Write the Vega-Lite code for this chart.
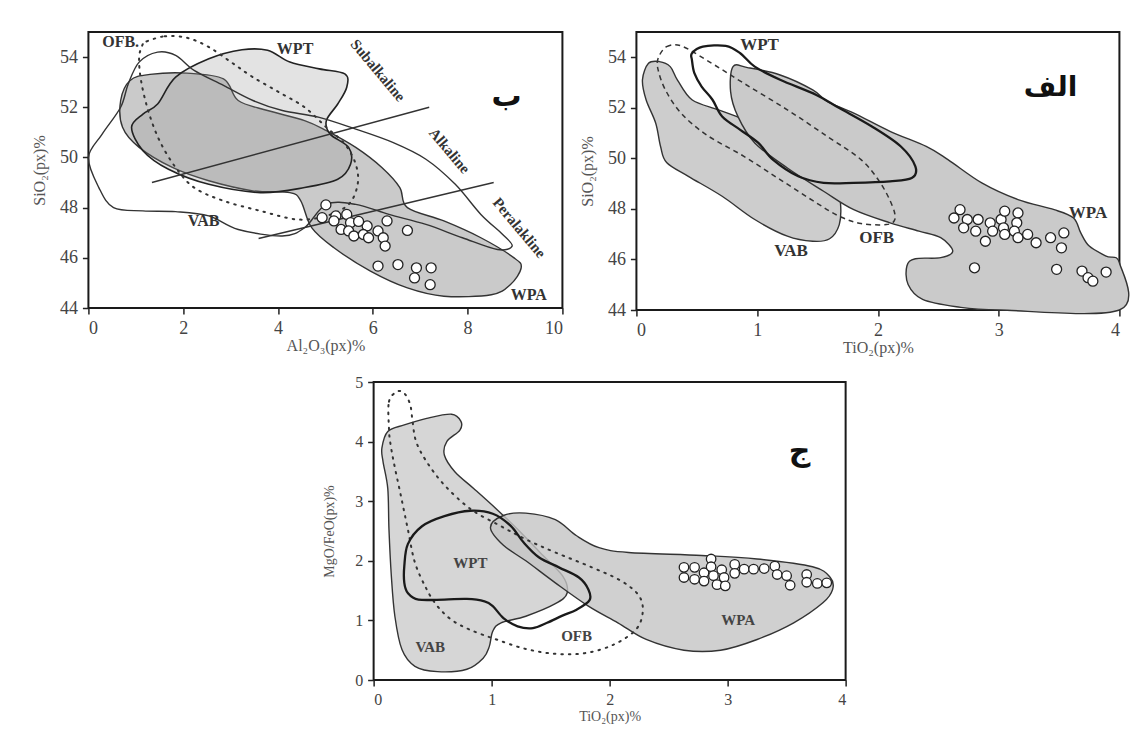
{
  "$schema": "https://vega.github.io/schema/vega-lite/v6.json",
  "padding": {"left": 30, "top": 30, "right": 5, "bottom": 5},
  "background": "white",
  "config": {
    "font": "Liberation Serif",
    "view": {"stroke": "#1a1a1a", "strokeWidth": 2},
    "axis": {"grid": false, "domain": false, "tickColor": "#222", "tickSize": 6, "tickWidth": 1.5,
      "labelFont": "Liberation Serif", "labelFontSize": 18, "labelColor": "#444", "labelPadding": 5,
      "titleFont": "Liberation Serif", "titleFontSize": 16, "titleFontWeight": "normal", "titleColor": "#555"},
    "axisY": {"titlePadding": 12},
    "axisX": {"titlePadding": 0}
  },
  "datasets": {
    "polyA": [
      {"s":"WPA","i":0,"x":0.68,"y":52.27},{"s":"WPA","i":1,"x":0.88,"y":53.07},{"s":"WPA","i":2,"x":1.30,"y":53.31},{"s":"WPA","i":3,"x":2.08,"y":53.36},{"s":"WPA","i":4,"x":2.85,"y":53.13},{"s":"WPA","i":5,"x":3.16,"y":52.27},{"s":"WPA","i":6,"x":3.78,"y":51.87},{"s":"WPA","i":7,"x":4.56,"y":51.47},{"s":"WPA","i":8,"x":5.02,"y":51.07},{"s":"WPA","i":9,"x":5.64,"y":50.4},{"s":"WPA","i":10,"x":6.19,"y":49.6},{"s":"WPA","i":11,"x":6.57,"y":48.8},{"s":"WPA","i":12,"x":6.73,"y":48.0},{"s":"WPA","i":13,"x":7.5,"y":47.47},{"s":"WPA","i":14,"x":8.28,"y":46.8},{"s":"WPA","i":15,"x":8.98,"y":46.0},{"s":"WPA","i":16,"x":9.13,"y":45.6},{"s":"WPA","i":17,"x":8.9,"y":44.93},{"s":"WPA","i":18,"x":8.5,"y":44.53},{"s":"WPA","i":19,"x":7.5,"y":44.47},{"s":"WPA","i":20,"x":6.73,"y":44.8},{"s":"WPA","i":21,"x":5.95,"y":45.47},{"s":"WPA","i":22,"x":5.18,"y":46.4},{"s":"WPA","i":23,"x":4.71,"y":47.2},{"s":"WPA","i":24,"x":4.48,"y":48.27},{"s":"WPA","i":25,"x":4.25,"y":48.6},{"s":"WPA","i":26,"x":3.47,"y":48.67},{"s":"WPA","i":27,"x":2.54,"y":49.07},{"s":"WPA","i":28,"x":1.77,"y":49.6},{"s":"WPA","i":29,"x":1.07,"y":50.4},{"s":"WPA","i":30,"x":0.72,"y":51.2},
      {"s":"WPT","i":0,"x":1.46,"y":52.13},{"s":"WPT","i":1,"x":1.84,"y":53.2},{"s":"WPT","i":2,"x":2.54,"y":53.93},{"s":"WPT","i":3,"x":3.24,"y":54.29},{"s":"WPT","i":4,"x":3.78,"y":54.27},{"s":"WPT","i":5,"x":4.25,"y":53.8},{"s":"WPT","i":6,"x":4.87,"y":53.53},{"s":"WPT","i":7,"x":5.41,"y":53.33},{"s":"WPT","i":8,"x":5.45,"y":52.8},{"s":"WPT","i":9,"x":5.26,"y":52.13},{"s":"WPT","i":10,"x":5.02,"y":51.47},{"s":"WPT","i":11,"x":5.1,"y":50.93},{"s":"WPT","i":12,"x":5.49,"y":50.4},{"s":"WPT","i":13,"x":5.53,"y":49.73},{"s":"WPT","i":14,"x":5.26,"y":49.13},{"s":"WPT","i":15,"x":4.56,"y":48.8},{"s":"WPT","i":16,"x":3.63,"y":48.6},{"s":"WPT","i":17,"x":2.54,"y":48.93},{"s":"WPT","i":18,"x":1.69,"y":49.53},{"s":"WPT","i":19,"x":1.15,"y":50.27},{"s":"WPT","i":20,"x":0.91,"y":51.2},{"s":"WPT","i":21,"x":1.15,"y":51.73},
      {"s":"VAB","i":0,"x":0.0,"y":50.0},{"s":"VAB","i":1,"x":0.29,"y":50.93},{"s":"VAB","i":2,"x":0.68,"y":52.0},{"s":"VAB","i":3,"x":0.84,"y":52.93},{"s":"VAB","i":4,"x":1.07,"y":53.8},{"s":"VAB","i":5,"x":1.46,"y":54.2},{"s":"VAB","i":6,"x":1.84,"y":54.07},{"s":"VAB","i":7,"x":2.23,"y":53.47},{"s":"VAB","i":8,"x":2.85,"y":52.87},{"s":"VAB","i":9,"x":3.47,"y":52.27},{"s":"VAB","i":10,"x":4.09,"y":51.87},{"s":"VAB","i":11,"x":4.87,"y":51.6},{"s":"VAB","i":12,"x":5.64,"y":51.13},{"s":"VAB","i":13,"x":6.42,"y":50.6},{"s":"VAB","i":14,"x":7.12,"y":49.93},{"s":"VAB","i":15,"x":7.74,"y":48.93},{"s":"VAB","i":16,"x":8.28,"y":47.73},{"s":"VAB","i":17,"x":8.74,"y":46.93},{"s":"VAB","i":18,"x":8.94,"y":46.47},{"s":"VAB","i":19,"x":8.63,"y":46.33},{"s":"VAB","i":20,"x":7.89,"y":46.8},{"s":"VAB","i":21,"x":7.12,"y":47.33},{"s":"VAB","i":22,"x":6.34,"y":47.73},{"s":"VAB","i":23,"x":5.64,"y":48.13},{"s":"VAB","i":24,"x":5.02,"y":48.13},{"s":"VAB","i":25,"x":4.56,"y":47.2},{"s":"VAB","i":26,"x":4.09,"y":46.87},{"s":"VAB","i":27,"x":3.16,"y":47.13},{"s":"VAB","i":28,"x":2.54,"y":47.67},{"s":"VAB","i":29,"x":1.84,"y":47.84},{"s":"VAB","i":30,"x":1.15,"y":47.87},{"s":"VAB","i":31,"x":0.53,"y":48.0},{"s":"VAB","i":32,"x":0.22,"y":48.8},
      {"s":"OFB","i":0,"x":1.19,"y":54.6},{"s":"OFB","i":1,"x":1.61,"y":54.83},{"s":"OFB","i":2,"x":2.08,"y":54.77},{"s":"OFB","i":3,"x":2.54,"y":54.4},{"s":"OFB","i":4,"x":3.01,"y":53.8},{"s":"OFB","i":5,"x":3.47,"y":53.2},{"s":"OFB","i":6,"x":4.02,"y":52.6},{"s":"OFB","i":7,"x":4.56,"y":52.0},{"s":"OFB","i":8,"x":5.02,"y":51.2},{"s":"OFB","i":9,"x":5.41,"y":50.53},{"s":"OFB","i":10,"x":5.64,"y":49.73},{"s":"OFB","i":11,"x":5.68,"y":48.93},{"s":"OFB","i":12,"x":5.49,"y":48.13},{"s":"OFB","i":13,"x":5.02,"y":47.67},{"s":"OFB","i":14,"x":4.4,"y":47.53},{"s":"OFB","i":15,"x":3.63,"y":47.87},{"s":"OFB","i":16,"x":2.85,"y":48.27},{"s":"OFB","i":17,"x":2.23,"y":48.8},{"s":"OFB","i":18,"x":1.84,"y":49.6},{"s":"OFB","i":19,"x":1.5,"y":50.67},{"s":"OFB","i":20,"x":1.26,"y":51.87},{"s":"OFB","i":21,"x":1.11,"y":53.07},{"s":"OFB","i":22,"x":1.07,"y":54.0},{"s":"OFB","i":23,"x":1.15,"y":54.53}
    ],
    "linesA": [
      {"s":"L1","i":0,"x":1.34,"y":49.0},{"s":"L1","i":1,"x":7.19,"y":52.0},
      {"s":"L2","i":0,"x":3.59,"y":46.77},{"s":"L2","i":1,"x":8.55,"y":49.0}
    ],
    "ptsA": [
      {"x":5.01,"y":48.11},{"x":4.93,"y":47.6},{"x":5.22,"y":47.67},{"x":5.45,"y":47.73},{"x":5.18,"y":47.47},{"x":5.33,"y":47.13},{"x":5.53,"y":47.4},{"x":5.49,"y":47.07},{"x":5.6,"y":46.87},{"x":5.88,"y":47.27},{"x":5.8,"y":46.93},{"x":5.91,"y":46.8},{"x":6.11,"y":47.07},{"x":6.22,"y":46.8},{"x":6.26,"y":46.47},{"x":6.3,"y":47.47},{"x":6.73,"y":47.09},{"x":6.11,"y":45.67},{"x":6.53,"y":45.73},{"x":6.92,"y":45.6},{"x":6.88,"y":45.2},{"x":7.23,"y":45.6},{"x":7.21,"y":44.93},{"x":5.7,"y":47.45}
    ],
    "labA": [
      {"t":"OFB.","x":0.68,"y":54.6},{"t":"WPT","x":4.36,"y":54.33},{"t":"VAB","x":2.43,"y":47.47},{"t":"WPA","x":9.29,"y":44.53}
    ],
    "rotA": [
      {"t":"Subalkaline","x":6.11,"y":53.47},{"t":"Alkaline","x":7.62,"y":50.27},{"t":"Peralakline","x":9.09,"y":47.2}
    ],
    "polyB": [
      {"s":"VAB","i":0,"x":0.1,"y":53.76},{"s":"VAB","i":1,"x":0.19,"y":53.83},{"s":"VAB","i":2,"x":0.28,"y":53.63},{"s":"VAB","i":3,"x":0.34,"y":53.1},{"s":"VAB","i":4,"x":0.46,"y":52.32},{"s":"VAB","i":5,"x":0.68,"y":51.92},{"s":"VAB","i":6,"x":0.89,"y":51.53},{"s":"VAB","i":7,"x":1.07,"y":51.0},{"s":"VAB","i":8,"x":1.25,"y":50.54},{"s":"VAB","i":9,"x":1.49,"y":49.95},{"s":"VAB","i":10,"x":1.65,"y":49.16},{"s":"VAB","i":11,"x":1.69,"y":48.24},{"s":"VAB","i":12,"x":1.68,"y":47.38},{"s":"VAB","i":13,"x":1.6,"y":46.82},{"s":"VAB","i":14,"x":1.46,"y":46.72},{"s":"VAB","i":15,"x":1.25,"y":46.92},{"s":"VAB","i":16,"x":0.98,"y":47.58},{"s":"VAB","i":17,"x":0.71,"y":48.5},{"s":"VAB","i":18,"x":0.43,"y":49.29},{"s":"VAB","i":19,"x":0.25,"y":49.84},{"s":"VAB","i":20,"x":0.2,"y":50.47},{"s":"VAB","i":21,"x":0.16,"y":51.39},{"s":"VAB","i":22,"x":0.08,"y":52.32},{"s":"VAB","i":23,"x":0.05,"y":53.11},
      {"s":"WPA","i":0,"x":0.8,"y":53.63},{"s":"WPA","i":1,"x":0.92,"y":53.59},{"s":"WPA","i":2,"x":1.19,"y":53.3},{"s":"WPA","i":3,"x":1.46,"y":52.71},{"s":"WPA","i":4,"x":1.58,"y":52.25},{"s":"WPA","i":5,"x":1.8,"y":51.79},{"s":"WPA","i":6,"x":2.1,"y":51.07},{"s":"WPA","i":7,"x":2.4,"y":50.47},{"s":"WPA","i":8,"x":2.58,"y":49.95},{"s":"WPA","i":9,"x":2.86,"y":49.03},{"s":"WPA","i":10,"x":3.16,"y":48.37},{"s":"WPA","i":11,"x":3.46,"y":47.97},{"s":"WPA","i":12,"x":3.62,"y":47.64},{"s":"WPA","i":13,"x":3.68,"y":47.05},{"s":"WPA","i":14,"x":3.75,"y":46.53},{"s":"WPA","i":15,"x":3.89,"y":46.13},{"s":"WPA","i":16,"x":4.0,"y":45.87},{"s":"WPA","i":17,"x":4.0,"y":44.0},{"s":"WPA","i":18,"x":3.01,"y":44.0},{"s":"WPA","i":19,"x":2.65,"y":44.13},{"s":"WPA","i":20,"x":2.37,"y":44.42},{"s":"WPA","i":21,"x":2.25,"y":45.01},{"s":"WPA","i":22,"x":2.24,"y":45.74},{"s":"WPA","i":23,"x":2.31,"y":46.03},{"s":"WPA","i":24,"x":2.52,"y":46.07},{"s":"WPA","i":25,"x":2.62,"y":46.33},{"s":"WPA","i":26,"x":2.52,"y":46.86},{"s":"WPA","i":27,"x":2.34,"y":47.12},{"s":"WPA","i":28,"x":2.1,"y":47.45},{"s":"WPA","i":29,"x":1.8,"y":47.97},{"s":"WPA","i":30,"x":1.55,"y":48.7},{"s":"WPA","i":31,"x":1.25,"y":49.62},{"s":"WPA","i":32,"x":0.98,"y":50.61},{"s":"WPA","i":33,"x":0.84,"y":51.66},{"s":"WPA","i":34,"x":0.78,"y":52.64},
      {"s":"WPT","i":0,"x":0.46,"y":54.16},{"s":"WPT","i":1,"x":0.55,"y":54.42},{"s":"WPT","i":2,"x":0.74,"y":54.45},{"s":"WPT","i":3,"x":0.86,"y":54.16},{"s":"WPT","i":4,"x":0.98,"y":53.63},{"s":"WPT","i":5,"x":1.19,"y":53.11},{"s":"WPT","i":6,"x":1.49,"y":52.51},{"s":"WPT","i":7,"x":1.68,"y":51.99},{"s":"WPT","i":8,"x":1.95,"y":51.26},{"s":"WPT","i":9,"x":2.19,"y":50.47},{"s":"WPT","i":10,"x":2.31,"y":49.68},{"s":"WPT","i":11,"x":2.28,"y":49.22},{"s":"WPT","i":12,"x":2.1,"y":49.09},{"s":"WPT","i":13,"x":1.8,"y":49.03},{"s":"WPT","i":14,"x":1.55,"y":49.03},{"s":"WPT","i":15,"x":1.34,"y":49.29},{"s":"WPT","i":16,"x":1.13,"y":49.95},{"s":"WPT","i":17,"x":1.01,"y":50.61},{"s":"WPT","i":18,"x":0.86,"y":51.13},{"s":"WPT","i":19,"x":0.71,"y":51.66},{"s":"WPT","i":20,"x":0.63,"y":52.32},{"s":"WPT","i":21,"x":0.54,"y":52.84},{"s":"WPT","i":22,"x":0.48,"y":53.37},{"s":"WPT","i":23,"x":0.46,"y":53.89},
      {"s":"OFB","i":0,"x":0.18,"y":53.96},{"s":"OFB","i":1,"x":0.25,"y":54.42},{"s":"OFB","i":2,"x":0.37,"y":54.45},{"s":"OFB","i":3,"x":0.58,"y":53.89},{"s":"OFB","i":4,"x":0.89,"y":52.97},{"s":"OFB","i":5,"x":1.25,"y":51.92},{"s":"OFB","i":6,"x":1.58,"y":50.87},{"s":"OFB","i":7,"x":1.86,"y":49.95},{"s":"OFB","i":8,"x":2.02,"y":49.03},{"s":"OFB","i":9,"x":2.12,"y":48.11},{"s":"OFB","i":10,"x":2.14,"y":47.58},{"s":"OFB","i":11,"x":2.07,"y":47.38},{"s":"OFB","i":12,"x":1.86,"y":47.42},{"s":"OFB","i":13,"x":1.68,"y":47.71},{"s":"OFB","i":14,"x":1.49,"y":48.24},{"s":"OFB","i":15,"x":1.19,"y":49.16},{"s":"OFB","i":16,"x":0.89,"y":50.08},{"s":"OFB","i":17,"x":0.58,"y":50.93},{"s":"OFB","i":18,"x":0.37,"y":51.79},{"s":"OFB","i":19,"x":0.24,"y":52.71},{"s":"OFB","i":20,"x":0.18,"y":53.5}
    ],
    "ptsB": [
      {"x":2.68,"y":47.97},{"x":2.63,"y":47.64},{"x":2.74,"y":47.58},{"x":2.71,"y":47.25},{"x":2.83,"y":47.58},{"x":2.81,"y":47.12},{"x":2.89,"y":46.72},{"x":2.93,"y":47.45},{"x":2.95,"y":47.12},{"x":3.02,"y":47.58},{"x":3.05,"y":47.91},{"x":3.04,"y":47.25},{"x":3.16,"y":47.84},{"x":3.15,"y":47.45},{"x":3.13,"y":47.12},{"x":3.05,"y":46.99},{"x":3.16,"y":46.86},{"x":3.24,"y":46.99},{"x":3.31,"y":46.66},{"x":3.43,"y":46.86},{"x":3.54,"y":47.05},{"x":3.52,"y":46.46},{"x":3.48,"y":45.61},{"x":2.8,"y":45.67},{"x":3.69,"y":45.54},{"x":3.74,"y":45.28},{"x":3.78,"y":45.14},{"x":3.89,"y":45.5}
    ],
    "labB": [
      {"t":"WPT","x":1.02,"y":54.49},{"t":"VAB","x":1.28,"y":46.33},{"t":"OFB","x":1.99,"y":46.86},{"t":"WPA","x":3.74,"y":47.84}
    ],
    "polyC": [
      {"s":"VAB","i":0,"x":0.07,"y":3.89},{"s":"VAB","i":1,"x":0.12,"y":4.17},{"s":"VAB","i":2,"x":0.26,"y":4.28},{"s":"VAB","i":3,"x":0.45,"y":4.39},{"s":"VAB","i":4,"x":0.66,"y":4.46},{"s":"VAB","i":5,"x":0.74,"y":4.34},{"s":"VAB","i":6,"x":0.73,"y":4.19},{"s":"VAB","i":7,"x":0.62,"y":4.0},{"s":"VAB","i":8,"x":0.6,"y":3.77},{"s":"VAB","i":9,"x":0.69,"y":3.49},{"s":"VAB","i":10,"x":0.85,"y":3.21},{"s":"VAB","i":11,"x":1.04,"y":2.87},{"s":"VAB","i":12,"x":1.22,"y":2.53},{"s":"VAB","i":13,"x":1.41,"y":2.14},{"s":"VAB","i":14,"x":1.6,"y":1.75},{"s":"VAB","i":15,"x":1.64,"y":1.46},{"s":"VAB","i":16,"x":1.54,"y":1.28},{"s":"VAB","i":17,"x":1.29,"y":1.07},{"s":"VAB","i":18,"x":1.08,"y":0.96},{"s":"VAB","i":19,"x":1.01,"y":0.82},{"s":"VAB","i":20,"x":0.98,"y":0.56},{"s":"VAB","i":21,"x":0.93,"y":0.37},{"s":"VAB","i":22,"x":0.79,"y":0.18},{"s":"VAB","i":23,"x":0.54,"y":0.14},{"s":"VAB","i":24,"x":0.35,"y":0.23},{"s":"VAB","i":25,"x":0.24,"y":0.51},{"s":"VAB","i":26,"x":0.18,"y":1.07},{"s":"VAB","i":27,"x":0.15,"y":1.75},{"s":"VAB","i":28,"x":0.13,"y":2.53},{"s":"VAB","i":29,"x":0.12,"y":3.21},{"s":"VAB","i":30,"x":0.08,"y":3.66},
      {"s":"WPA","i":0,"x":0.99,"y":2.56},{"s":"WPA","i":1,"x":1.1,"y":2.76},{"s":"WPA","i":2,"x":1.29,"y":2.8},{"s":"WPA","i":3,"x":1.54,"y":2.69},{"s":"WPA","i":4,"x":1.72,"y":2.42},{"s":"WPA","i":5,"x":1.91,"y":2.22},{"s":"WPA","i":6,"x":2.16,"y":2.14},{"s":"WPA","i":7,"x":2.78,"y":2.09},{"s":"WPA","i":8,"x":3.25,"y":2.03},{"s":"WPA","i":9,"x":3.72,"y":1.9},{"s":"WPA","i":10,"x":3.87,"y":1.72},{"s":"WPA","i":11,"x":3.89,"y":1.52},{"s":"WPA","i":12,"x":3.81,"y":1.3},{"s":"WPA","i":13,"x":3.56,"y":0.96},{"s":"WPA","i":14,"x":3.25,"y":0.68},{"s":"WPA","i":15,"x":2.94,"y":0.5},{"s":"WPA","i":16,"x":2.63,"y":0.5},{"s":"WPA","i":17,"x":2.31,"y":0.68},{"s":"WPA","i":18,"x":2.07,"y":0.96},{"s":"WPA","i":19,"x":1.82,"y":1.24},{"s":"WPA","i":20,"x":1.54,"y":1.63},{"s":"WPA","i":21,"x":1.29,"y":2.0},{"s":"WPA","i":22,"x":1.1,"y":2.26},
      {"s":"WPT","i":0,"x":0.26,"y":1.91},{"s":"WPT","i":1,"x":0.29,"y":2.28},{"s":"WPT","i":2,"x":0.41,"y":2.58},{"s":"WPT","i":3,"x":0.6,"y":2.75},{"s":"WPT","i":4,"x":0.82,"y":2.84},{"s":"WPT","i":5,"x":1.01,"y":2.79},{"s":"WPT","i":6,"x":1.16,"y":2.59},{"s":"WPT","i":7,"x":1.27,"y":2.31},{"s":"WPT","i":8,"x":1.4,"y":2.06},{"s":"WPT","i":9,"x":1.57,"y":1.89},{"s":"WPT","i":10,"x":1.74,"y":1.72},{"s":"WPT","i":11,"x":1.82,"y":1.52},{"s":"WPT","i":12,"x":1.83,"y":1.34},{"s":"WPT","i":13,"x":1.72,"y":1.18},{"s":"WPT","i":14,"x":1.6,"y":1.08},{"s":"WPT","i":15,"x":1.47,"y":0.96},{"s":"WPT","i":16,"x":1.35,"y":0.87},{"s":"WPT","i":17,"x":1.22,"y":0.9},{"s":"WPT","i":18,"x":1.1,"y":1.04},{"s":"WPT","i":19,"x":1.01,"y":1.24},{"s":"WPT","i":20,"x":0.94,"y":1.32},{"s":"WPT","i":21,"x":0.79,"y":1.36},{"s":"WPT","i":22,"x":0.6,"y":1.35},{"s":"WPT","i":23,"x":0.38,"y":1.35},{"s":"WPT","i":24,"x":0.29,"y":1.46},{"s":"WPT","i":25,"x":0.26,"y":1.63},
      {"s":"OFB","i":0,"x":0.13,"y":4.22},{"s":"OFB","i":1,"x":0.13,"y":4.67},{"s":"OFB","i":2,"x":0.2,"y":4.84},{"s":"OFB","i":3,"x":0.26,"y":4.81},{"s":"OFB","i":4,"x":0.31,"y":4.62},{"s":"OFB","i":5,"x":0.33,"y":4.34},{"s":"OFB","i":6,"x":0.36,"y":4.0},{"s":"OFB","i":7,"x":0.45,"y":3.66},{"s":"OFB","i":8,"x":0.6,"y":3.27},{"s":"OFB","i":9,"x":0.82,"y":2.87},{"s":"OFB","i":10,"x":1.07,"y":2.59},{"s":"OFB","i":11,"x":1.29,"y":2.36},{"s":"OFB","i":12,"x":1.54,"y":2.14},{"s":"OFB","i":13,"x":1.85,"y":1.89},{"s":"OFB","i":14,"x":2.1,"y":1.66},{"s":"OFB","i":15,"x":2.25,"y":1.41},{"s":"OFB","i":16,"x":2.28,"y":1.13},{"s":"OFB","i":17,"x":2.22,"y":0.84},{"s":"OFB","i":18,"x":2.03,"y":0.59},{"s":"OFB","i":19,"x":1.79,"y":0.45},{"s":"OFB","i":20,"x":1.54,"y":0.44},{"s":"OFB","i":21,"x":1.29,"y":0.52},{"s":"OFB","i":22,"x":1.04,"y":0.68},{"s":"OFB","i":23,"x":0.82,"y":0.84},{"s":"OFB","i":24,"x":0.66,"y":1.01},{"s":"OFB","i":25,"x":0.54,"y":1.24},{"s":"OFB","i":26,"x":0.45,"y":1.52},{"s":"OFB","i":27,"x":0.35,"y":1.97},{"s":"OFB","i":28,"x":0.29,"y":2.53},{"s":"OFB","i":29,"x":0.23,"y":3.1},{"s":"OFB","i":30,"x":0.17,"y":3.66},{"s":"OFB","i":31,"x":0.14,"y":4.0}
    ],
    "ptsC": [
      {"x":2.63,"y":1.89},{"x":2.63,"y":1.72},{"x":2.72,"y":1.89},{"x":2.72,"y":1.69},{"x":2.8,"y":1.8},{"x":2.8,"y":1.66},{"x":2.86,"y":2.03},{"x":2.86,"y":1.9},{"x":2.88,"y":1.75},{"x":2.91,"y":1.6},{"x":2.95,"y":1.85},{"x":2.97,"y":1.72},{"x":2.98,"y":1.58},{"x":3.06,"y":1.94},{"x":3.06,"y":1.79},{"x":3.14,"y":1.86},{"x":3.22,"y":1.86},{"x":3.31,"y":1.87},{"x":3.4,"y":1.91},{"x":3.42,"y":1.77},{"x":3.5,"y":1.75},{"x":3.53,"y":1.59},{"x":3.67,"y":1.77},{"x":3.67,"y":1.64},{"x":3.76,"y":1.62},{"x":3.84,"y":1.63}
    ],
    "labC": [
      {"t":"WPT","x":0.82,"y":1.97},{"t":"VAB","x":0.48,"y":0.56},{"t":"OFB","x":1.72,"y":0.73},{"t":"WPA","x":3.09,"y":1.01}
    ]
  },
  "vconcat": [
    {
      "hconcat": [
        {
          "width": 474, "height": 276,
          "encoding": {
            "x": {"field": "x", "type": "quantitative", "scale": {"domain": [0, 10], "nice": false, "zero": false}, "axis": {"values": [0, 2, 4, 6, 8, 10], "title": "Al₂O₃(px)%"}},
            "y": {"field": "y", "type": "quantitative", "scale": {"domain": [44, 55], "nice": false, "zero": false}, "axis": {"values": [44, 46, 48, 50, 52, 54], "title": "SiO₂(px)%"}}
          },
          "layer": [
            {"data": {"name": "polyA"}, "transform": [{"filter": "datum.s == 'WPA'"}],
             "mark": {"type": "line", "interpolate": "cardinal-closed", "fill": "#cacaca", "stroke": "#333", "strokeWidth": 1.4},
             "encoding": {"detail": {"field": "s"}, "order": {"field": "i", "type": "quantitative"}}},
            {"data": {"name": "polyA"}, "transform": [{"filter": "datum.s == 'WPT'"}],
             "mark": {"type": "line", "interpolate": "cardinal-closed", "fill": "#909090", "fillOpacity": 0.25, "stroke": "#222", "strokeWidth": 1.6},
             "encoding": {"detail": {"field": "s"}, "order": {"field": "i", "type": "quantitative"}}},
            {"data": {"name": "polyA"}, "transform": [{"filter": "datum.s == 'VAB'"}],
             "mark": {"type": "line", "interpolate": "cardinal-closed", "stroke": "#333", "strokeWidth": 1.4},
             "encoding": {"detail": {"field": "s"}, "order": {"field": "i", "type": "quantitative"}}},
            {"data": {"name": "polyA"}, "transform": [{"filter": "datum.s == 'OFB'"}],
             "mark": {"type": "line", "interpolate": "cardinal-closed", "stroke": "#333", "strokeWidth": 2, "strokeDash": [1.5, 6], "strokeCap": "round"},
             "encoding": {"detail": {"field": "s"}, "order": {"field": "i", "type": "quantitative"}}},
            {"data": {"name": "linesA"},
             "mark": {"type": "line", "stroke": "#333", "strokeWidth": 1.4},
             "encoding": {"detail": {"field": "s"}, "order": {"field": "i", "type": "quantitative"}}},
            {"data": {"name": "ptsA"},
             "mark": {"type": "point", "shape": "circle", "filled": true, "fill": "white", "stroke": "#222", "strokeWidth": 1.3, "size": 100, "opacity": 1}},
            {"data": {"name": "labA"},
             "mark": {"type": "text", "font": "Liberation Serif", "fontSize": 16, "fontWeight": "bold", "color": "#333"},
             "encoding": {"text": {"field": "t"}}},
            {"data": {"name": "rotA"},
             "mark": {"type": "text", "font": "Liberation Serif", "fontSize": 15, "fontWeight": "bold", "color": "#333", "angle": 50},
             "encoding": {"text": {"field": "t"}}},
            {"data": {"values": [{"t": "ب", "x": 8.82, "y": 52.4}]},
             "mark": {"type": "text", "font": "DejaVu Sans", "fontSize": 30, "fontWeight": "bold", "color": "#111"},
             "encoding": {"text": {"field": "t"}}}
          ]
        },
        {
          "width": 483, "height": 278,
          "encoding": {
            "x": {"field": "x", "type": "quantitative", "scale": {"domain": [0, 4], "nice": false, "zero": false}, "axis": {"values": [0, 1, 2, 3, 4], "title": "TiO₂(px)%"}},
            "y": {"field": "y", "type": "quantitative", "scale": {"domain": [44, 55], "nice": false, "zero": false}, "axis": {"values": [44, 46, 48, 50, 52, 54], "title": "SiO₂(px)%"}}
          },
          "layer": [
            {"data": {"name": "polyB"}, "transform": [{"filter": "datum.s == 'VAB'"}],
             "mark": {"type": "line", "interpolate": "cardinal-closed", "fill": "#cdcdcd", "stroke": "#333", "strokeWidth": 1.4},
             "encoding": {"detail": {"field": "s"}, "order": {"field": "i", "type": "quantitative"}}},
            {"data": {"name": "polyB"}, "transform": [{"filter": "datum.s == 'WPA'"}],
             "mark": {"type": "line", "interpolate": "cardinal-closed", "fill": "#cacaca", "stroke": "#333", "strokeWidth": 1.4},
             "encoding": {"detail": {"field": "s"}, "order": {"field": "i", "type": "quantitative"}}},
            {"data": {"name": "polyB"}, "transform": [{"filter": "datum.s == 'OFB'"}],
             "mark": {"type": "line", "interpolate": "cardinal-closed", "stroke": "#333", "strokeWidth": 1.5, "strokeDash": [5, 4]},
             "encoding": {"detail": {"field": "s"}, "order": {"field": "i", "type": "quantitative"}}},
            {"data": {"name": "polyB"}, "transform": [{"filter": "datum.s == 'WPT'"}],
             "mark": {"type": "line", "interpolate": "cardinal-closed", "stroke": "#1a1a1a", "strokeWidth": 2.3},
             "encoding": {"detail": {"field": "s"}, "order": {"field": "i", "type": "quantitative"}}},
            {"data": {"name": "ptsB"},
             "mark": {"type": "point", "shape": "circle", "filled": true, "fill": "white", "stroke": "#222", "strokeWidth": 1.3, "size": 100, "opacity": 1}},
            {"data": {"name": "labB"},
             "mark": {"type": "text", "font": "Liberation Serif", "fontSize": 17, "fontWeight": "bold", "color": "#333"},
             "encoding": {"text": {"field": "t"}}},
            {"data": {"values": [{"t": "الف", "x": 3.43, "y": 52.78}]},
             "mark": {"type": "text", "font": "DejaVu Sans", "fontSize": 28, "fontWeight": "bold", "color": "#111"},
             "encoding": {"text": {"field": "t"}}}
          ]
        }
      ],
      "spacing": 14
    },
    {
      "width": 472, "height": 298,
      "encoding": {
        "x": {"field": "x", "type": "quantitative", "scale": {"domain": [0, 4], "nice": false, "zero": false}, "axis": {"values": [0, 1, 2, 3, 4], "title": "TiO₂(px)%", "labelFontSize": 16, "titleFontSize": 14, "titlePadding": 2}},
        "y": {"field": "y", "type": "quantitative", "scale": {"domain": [0, 5], "nice": false, "zero": false}, "axis": {"values": [0, 1, 2, 3, 4, 5], "title": "MgO/FeO(px)%", "labelFontSize": 16, "titleFontSize": 14, "titlePadding": 18}}
      },
      "layer": [
        {"data": {"name": "polyC"}, "transform": [{"filter": "datum.s == 'VAB'"}],
         "mark": {"type": "line", "interpolate": "cardinal-closed", "fill": "#d2d2d2", "fillOpacity": 0.9, "stroke": "#333", "strokeWidth": 1.4},
         "encoding": {"detail": {"field": "s"}, "order": {"field": "i", "type": "quantitative"}}},
        {"data": {"name": "polyC"}, "transform": [{"filter": "datum.s == 'WPA'"}],
         "mark": {"type": "line", "interpolate": "cardinal-closed", "fill": "#c4c4c4", "fillOpacity": 0.8, "stroke": "#333", "strokeWidth": 1.4},
         "encoding": {"detail": {"field": "s"}, "order": {"field": "i", "type": "quantitative"}}},
        {"data": {"name": "polyC"}, "transform": [{"filter": "datum.s == 'OFB'"}],
         "mark": {"type": "line", "interpolate": "cardinal-closed", "stroke": "#333", "strokeWidth": 2, "strokeDash": [1.5, 6], "strokeCap": "round"},
         "encoding": {"detail": {"field": "s"}, "order": {"field": "i", "type": "quantitative"}}},
        {"data": {"name": "polyC"}, "transform": [{"filter": "datum.s == 'WPT'"}],
         "mark": {"type": "line", "interpolate": "cardinal-closed", "stroke": "#1a1a1a", "strokeWidth": 2.3},
         "encoding": {"detail": {"field": "s"}, "order": {"field": "i", "type": "quantitative"}}},
        {"data": {"name": "ptsC"},
         "mark": {"type": "point", "shape": "circle", "filled": true, "fill": "white", "stroke": "#222", "strokeWidth": 1.3, "size": 90, "opacity": 1}},
        {"data": {"name": "labC"},
         "mark": {"type": "text", "font": "Liberation Serif", "fontSize": 15, "fontWeight": "bold", "color": "#444"},
         "encoding": {"text": {"field": "t"}}},
        {"data": {"values": [{"t": "ج", "x": 3.61, "y": 3.83}]},
         "mark": {"type": "text", "font": "DejaVu Sans", "fontSize": 30, "fontWeight": "bold", "color": "#111"},
         "encoding": {"text": {"field": "t"}}}
      ]
    }
  ],
  "spacing": 17,
  "center": true
}
